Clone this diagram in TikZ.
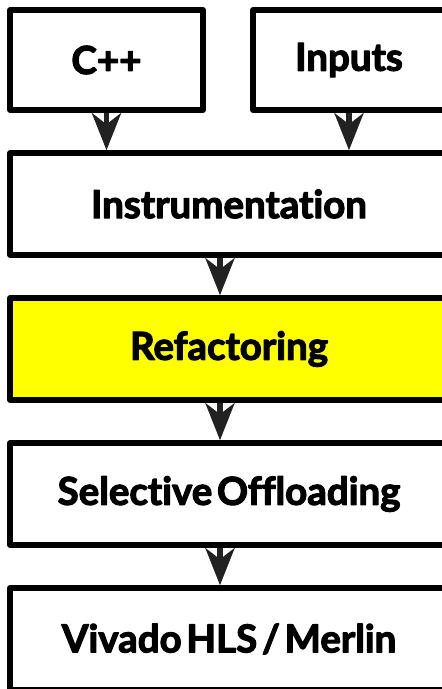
\documentclass[tikz,border=0pt]{standalone}
\usepackage{fontspec}
\setmainfont{Lato}[Ligatures = NoCommon, WordSpace = 0.5,
  BoldFeatures = {FakeBold = 3}]
\usetikzlibrary{arrows.meta}
\definecolor{arrowgray}{HTML}{222222}
\definecolor{hilite}{HTML}{FFFF00}
\tikzset{
  stagebox/.style={draw=black, line width=5.5pt, line join=round, fill=white,
    inner sep=0pt, font=\fontsize{38.5}{40}\selectfont\bfseries},
  smallbox/.style={stagebox, minimum width=193pt, minimum height=100pt},
  widebox/.style={stagebox, minimum width=438pt, minimum height=102pt},
  flow/.style={draw=arrowgray, line width=5.5pt,
    -{Stealth[length=37pt, width=29pt, inset=11pt]}}
}
\begin{document}
\begin{tikzpicture}[x=1pt, y=-1pt]
  \useasboundingbox (0,0) rectangle (442,689);
  \node[smallbox] (cpp) at (106.5,60) {C++};
  \node[smallbox, minimum width=192pt] (inp) at (349,60) {Inputs};
  \node[widebox] (instr) at (229,204) {Instrumentation};
  \node[widebox, fill=hilite] (refac) at (229,349) {Refactoring};
  \node[widebox] (offl) at (229,494) {Selective Offloading};
  \node[widebox] (hls) at (229,639) {Vivado HLS / Merlin};
  \draw[flow] (cpp.south) -- (cpp.south |- instr.north);
  \draw[flow] (inp.south) -- (inp.south |- instr.north);
  \draw[flow] ([xshift=-9pt]instr.south) -- ([xshift=-9pt]refac.north);
  \draw[flow] ([xshift=-9pt]refac.south) -- ([xshift=-9pt]offl.north);
  \draw[flow] ([xshift=-9pt]offl.south) -- ([xshift=-9pt]hls.north);
\end{tikzpicture}
\end{document}
